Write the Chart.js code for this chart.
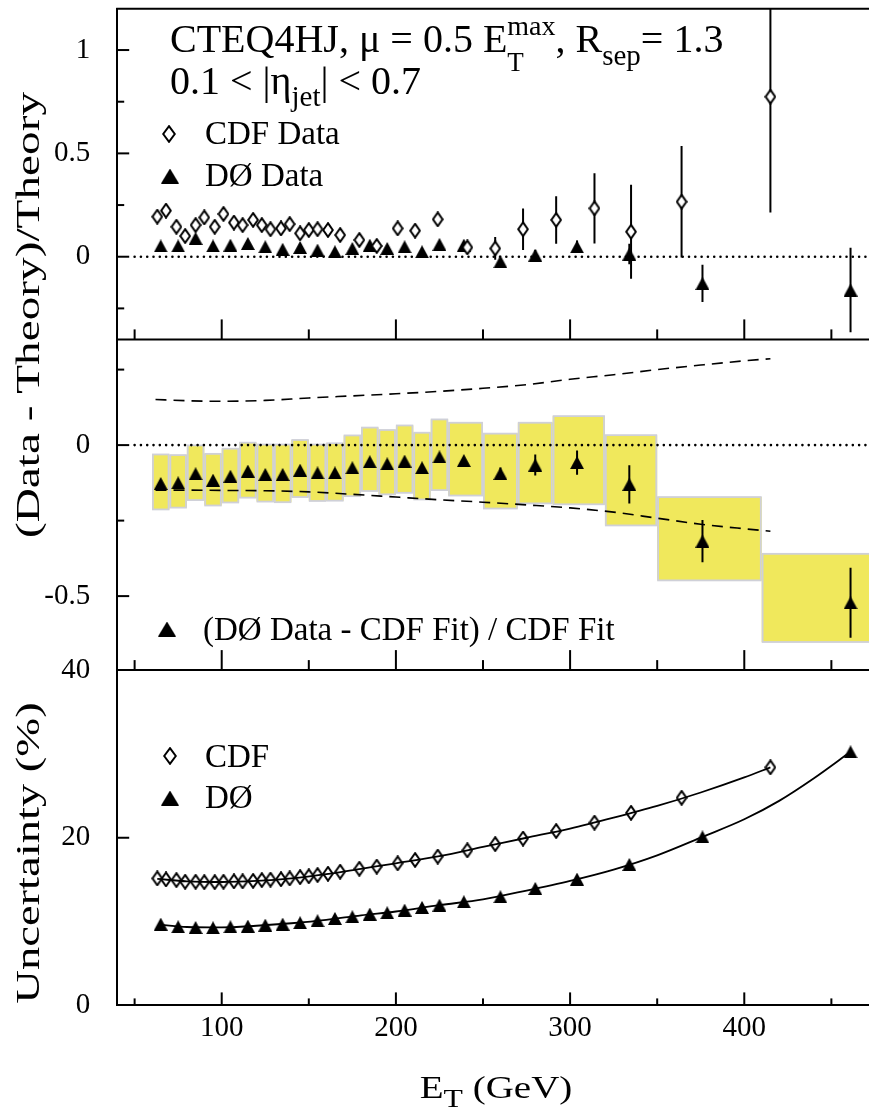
<!DOCTYPE html>
<html><head><meta charset="utf-8">
<script src="https://cdn.jsdelivr.net/npm/chart.js@4.4.0/dist/chart.umd.min.js"></script>
<style>html,body{margin:0;padding:0;background:#fff;overflow:hidden}#wrap{position:relative;width:869px;height:1110px;overflow:hidden}</style>
</head><body><div id="wrap"><canvas id="c" width="876" height="1110"></canvas></div>
<script>
// ---------- DATA ----------
const cdfE = [63,68,74,79,85,90,96,101,107,112,118,123,128,134,139,145,150,155,161,168,179,189,201,211,224,241,257,273,292,314,335,364,415];
const cdfRatio = [0.194,0.223,0.145,0.100,0.153,0.190,0.145,0.207,0.165,0.153,0.178,0.153,0.133,0.137,0.158,0.113,0.129,0.133,0.129,0.105,0.081,0.052,0.137,0.126,0.181,0.045,0.040,0.133,0.178,0.234,0.121,0.266,0.774];
const cdfRatioErr = [0,0,0,0,0,0,0,0,0,0,0,0,0,0,0,0,0,0,0,0,0,0,0,0,0,0.03,0.055,0.10,0.115,0.17,0.227,0.27,0.56];
const cdfUnc = [15.15,15.03,14.95,14.75,14.75,14.7,14.7,14.75,14.8,14.8,14.85,14.95,15.0,15.05,15.15,15.3,15.4,15.55,15.7,15.95,16.3,16.55,16.95,17.35,17.75,18.5,19.24,19.9,20.8,21.8,22.97,24.77,28.4];

const d0E = [65,75,85,95,105,115,125,135,145,155,165,175,185,195,205,215,225,239,260,280,304,334,376,461];
const d0Ratio = [0.052,0.052,0.089,0.052,0.056,0.064,0.048,0.036,0.045,0.032,0.024,0.040,0.056,0.040,0.048,0.024,0.060,0.056,-0.024,0.008,0.048,0.013,-0.129,-0.161];
const d0RatioErr = [0,0,0,0,0,0,0,0,0,0,0,0,0,0,0,0,0,0,0.01,0.025,0.03,0.05,0.09,0.205];
const d0Diff = [-0.127,-0.125,-0.095,-0.116,-0.103,-0.086,-0.097,-0.097,-0.083,-0.092,-0.092,-0.075,-0.055,-0.062,-0.053,-0.075,-0.039,-0.051,-0.094,-0.066,-0.058,-0.130,-0.318,-0.522];
const d0DiffErr = [0,0,0,0,0,0,0,0,0,0,0,0,0,0,0,0,0,0,0.02,0.035,0.04,0.063,0.07,0.116];
const d0Unc = [9.7,9.38,9.3,9.26,9.38,9.46,9.58,9.7,9.86,10.1,10.38,10.57,10.9,11.05,11.37,11.69,11.96,12.36,12.96,13.96,15.07,16.82,20.1,30.25];

// smooth fit curves through the uncertainty points
const cdfFitE = [63,80,100,120,140,160,180,200,225,250,275,300,325,350,375,400,415];
const cdfFitV = [15.1,14.8,14.72,14.85,15.15,15.65,16.3,16.95,17.8,18.9,20.0,21.1,22.4,23.8,25.4,27.2,28.4];
const d0FitE = [65,80,100,120,140,160,180,200,225,250,275,300,325,350,376,400,420,440,461];
const d0FitV = [9.6,9.35,9.3,9.5,9.8,10.2,10.75,11.2,11.96,12.65,13.7,14.85,16.2,17.9,20.1,22.2,24.4,27.1,30.25];

const binLo = [60,70,80,90,100,110,120,130,140,150,160,170,180,190,200,210,220,230,250,270,290,320,350,410];
const binHi = [70,80,90,100,110,120,130,140,150,160,170,180,190,200,210,220,230,250,270,290,320,350,410,560];
const sysHi = [-0.031,-0.033,-0.001,-0.029,-0.012,0.008,0.002,0.002,0.017,0.002,0.006,0.032,0.058,0.050,0.065,0.041,0.085,0.074,0.038,0.074,0.096,0.033,-0.172,-0.360];
const sysLo = [-0.213,-0.207,-0.182,-0.200,-0.190,-0.174,-0.187,-0.189,-0.172,-0.185,-0.184,-0.169,-0.152,-0.163,-0.158,-0.180,-0.149,-0.167,-0.210,-0.193,-0.196,-0.266,-0.448,-0.652];

const bandE = [62,80,100,125,150,175,200,225,250,275,300,325,350,375,400,415];
const bandUp = [0.151,0.147,0.145,0.148,0.156,0.163,0.170,0.178,0.188,0.200,0.218,0.233,0.250,0.265,0.279,0.286];
const bandLo = [-0.149,-0.149,-0.150,-0.151,-0.155,-0.163,-0.172,-0.181,-0.189,-0.198,-0.208,-0.222,-0.242,-0.262,-0.277,-0.285];

const zeroE = [50,472];
const zeroV = [0,0];

const xTickVals = [50,100,150,200,250,300,350,400,450];
const xLabelVals = [100,200,300,400];
const topTickVals = [-0.25,0,0.25,0.5,0.75,1];
const topLabelVals = [0,0.5,1];
const midTickVals = [-0.5,-0.25,0,0.25];
const midLabelVals = [0,-0.5];
const botTickVals = [0,20,40];
const botLabelVals = [0,20,40];

// ---------- helpers ----------
const FONT = '"Liberation Serif","Times New Roman",serif';
const pts = (xs, ys) => xs.map((v, i) => ({x: v, y: ys[i]}));
function makeTri(w, h) {
  const c = document.createElement('canvas'); c.width = w; c.height = h;
  const g = c.getContext('2d'); g.fillStyle = '#000';
  g.beginPath(); g.moveTo(w / 2, 0); g.lineTo(w, h); g.lineTo(0, h); g.closePath(); g.fill();
  return c;
}
function makeDia(w, h, fill) {
  const c = document.createElement('canvas'); c.width = w; c.height = h;
  const g = c.getContext('2d'); g.lineWidth = 2; g.strokeStyle = '#000';
  g.beginPath(); g.moveTo(w / 2, 1.2); g.lineTo(w - 1.2, h / 2); g.lineTo(w / 2, h - 1.2); g.lineTo(1.2, h / 2); g.closePath();
  if (fill) { g.fillStyle = fill; g.fill(); }
  g.stroke();
  return c;
}
const triImg = makeTri(14, 13), triLeg = makeTri(18, 15);
const diaImg = makeDia(12, 16, '#fff'), diaClear = makeDia(12, 16, null), diaLeg = makeDia(14, 18, '#fff');

function seg(ctx, x0, y0, x1, y1) { ctx.beginPath(); ctx.moveTo(x0, y0); ctx.lineTo(x1, y1); ctx.stroke(); }
function errBars(ctx, xs, ys, xv, yv, ev, ca) {
  ctx.save();
  ctx.beginPath(); ctx.rect(ca.left, ys.top, ca.right - ca.left, ys.bottom - ys.top); ctx.clip();
  ctx.strokeStyle = '#000'; ctx.lineWidth = 2;
  for (let i = 0; i < xv.length; i++) {
    if (!ev[i]) continue;
    const px = xs.getPixelForValue(xv[i]);
    seg(ctx, px, ys.getPixelForValue(yv[i] + ev[i]), px, ys.getPixelForValue(yv[i] - ev[i]));
  }
  ctx.restore();
}
function rich(ctx, parts, x, y) {
  let cx = x;
  for (const p of parts) {
    if (p.group) {
      let w = 0;
      for (const q of p.group) {
        ctx.font = q.size + 'px ' + FONT;
        ctx.fillText(q.t, cx, y + (q.dy || 0));
        w = Math.max(w, ctx.measureText(q.t).width);
      }
      cx += w;
    } else {
      ctx.font = p.size + 'px ' + FONT;
      ctx.fillText(p.t, cx, y + (p.dy || 0));
      cx += ctx.measureText(p.t).width;
    }
  }
  return cx - x;
}
function richWidth(ctx, parts) {
  let w = 0;
  for (const p of parts) { ctx.font = p.size + 'px ' + FONT; w += ctx.measureText(p.t).width; }
  return w;
}
function stretchedTitle(ctx, parts, x, y, rot, sx) {
  ctx.save(); ctx.translate(x, y); if (rot) ctx.rotate(-Math.PI / 2); ctx.scale(sx, 1);
  ctx.textAlign = 'left'; ctx.textBaseline = 'alphabetic'; ctx.fillStyle = '#000';
  const w = richWidth(ctx, parts);
  rich(ctx, parts, -w / 2, 0);
  ctx.restore();
}

const panelPlugin = {
  id: 'panels',
  beforeDatasetsDraw(chart) {
    const {ctx, chartArea: ca, scales: {x, yTop, yMid, yBot}} = chart;
    ctx.save();
    ctx.beginPath(); ctx.rect(ca.left, yMid.top, ca.right - ca.left, yMid.bottom - yMid.top); ctx.clip();
    for (let i = 0; i < binLo.length; i++) {
      const x0 = x.getPixelForValue(binLo[i]), x1 = x.getPixelForValue(binHi[i]);
      const y0 = yMid.getPixelForValue(sysHi[i]), y1 = yMid.getPixelForValue(sysLo[i]);
      ctx.fillStyle = '#f0e85c';
      ctx.fillRect(x0, y0, x1 - x0, y1 - y0);
      ctx.strokeStyle = '#cfd0d8'; ctx.lineWidth = 1.8;
      ctx.strokeRect(x0 + 0.9, y0, x1 - x0 - 1.8, y1 - y0);
    }
    ctx.restore();
    errBars(ctx, x, yTop, cdfE, cdfRatio, cdfRatioErr, ca);
    errBars(ctx, x, yTop, d0E, d0Ratio, d0RatioErr, ca);
    errBars(ctx, x, yMid, d0E, d0Diff, d0DiffErr, ca);
  },
  afterDraw(chart) {
    const {ctx, chartArea: ca, scales: {x, yTop, yMid, yBot}} = chart;
    ctx.save();
    ctx.strokeStyle = '#000'; ctx.lineWidth = 2;
    seg(ctx, ca.left - 1, yTop.top, ca.right, yTop.top);
    seg(ctx, ca.left - 1, yMid.top, ca.right, yMid.top);
    seg(ctx, ca.left - 1, yBot.top, ca.right, yBot.top);
    const yt = (s, vals, labs) => vals.forEach(v => {
      const py = s.getPixelForValue(v);
      seg(ctx, ca.left, py, ca.left + (labs.includes(v) ? 12 : 7), py);
    });
    yt(yTop, topTickVals, topLabelVals);
    yt(yMid, midTickVals, midLabelVals);
    yt(yBot, [20], [20]);
    const xt = (by, maj, mnr) => xTickVals.forEach(v => {
      const px = x.getPixelForValue(v);
      seg(ctx, px, by, px, by - (xLabelVals.includes(v) ? maj : mnr));
    });
    xt(yTop.bottom, 20, 10);
    xt(yMid.bottom, 20, 10);
    xt(yBot.bottom, 13, 7);

    ctx.fillStyle = '#000'; ctx.textBaseline = 'alphabetic'; ctx.textAlign = 'left';
    rich(ctx, [
      {t: 'CTEQ4HJ, \u03BC = 0.5 E', size: 40},
      {group: [{t: 'max', size: 28, dy: -17}, {t: 'T', size: 27, dy: 19}]},
      {t: ', R', size: 40},
      {t: 'sep', size: 29, dy: 13},
      {t: '= 1.3', size: 40}
    ], 170, 52);
    rich(ctx, [
      {t: '0.1 < |\u03B7', size: 40},
      {t: 'jet', size: 29, dy: 12},
      {t: '| < 0.7', size: 40}
    ], 170, 94);
    ctx.font = '33px ' + FONT;
    ctx.drawImage(diaLeg, 169 - 7, 134 - 9);
    ctx.fillText('CDF Data', 205, 144);
    ctx.drawImage(triLeg, 170 - 9, 176 - 7.5);
    ctx.fillText('D\u00D8 Data', 205, 186);
    ctx.drawImage(triLeg, 167 - 9, 629 - 7.5);
    ctx.fillText('(D\u00D8 Data - CDF Fit) / CDF Fit', 203, 640);
    ctx.drawImage(diaLeg, 170 - 7, 756 - 9);
    ctx.fillText('CDF', 205, 767);
    ctx.drawImage(triLeg, 170 - 9, 798 - 7.5);
    ctx.fillText('D\u00D8', 205, 808);
    stretchedTitle(ctx, [{t: '(Data - Theory)/Theory', size: 34}], 39, 315, true, 1.39);
    stretchedTitle(ctx, [{t: 'Uncertainty (%)', size: 34}], 39, 853, true, 1.37);
    stretchedTitle(ctx, [{t: 'E', size: 32}, {t: 'T', size: 26, dy: 9}, {t: ' (GeV)', size: 32}], 496, 1098, false, 1.22);
    ctx.restore();
  }
};

const yCommon = (tickVals, labelVals, weight, sw) => ({
  type: 'linear', position: 'left', stack: 'panels', stackWeight: sw, weight: weight,
  afterBuildTicks: s => { s.ticks = tickVals.map(v => ({value: v})); },
  ticks: {callback: v => labelVals.includes(v) ? String(v) : '', font: {family: FONT, size: 29}, color: '#000', padding: 27, autoSkip: false},
  grid: {display: false, drawTicks: false},
  border: {display: true, color: '#000', width: 2},
  afterFit: s => { s.width = 117.2; s.paddingTop = 0; s.paddingBottom = 0; s.paddingLeft = 0; s.paddingRight = 0; }
});

const scales = {
  x: {
    type: 'linear', position: 'bottom', min: 40, max: 471.6,
    afterBuildTicks: s => { s.ticks = xTickVals.map(v => ({value: v})); },
    ticks: {callback: v => xLabelVals.includes(v) ? String(v) : '', font: {family: FONT, size: 29}, color: '#000', padding: 6, maxRotation: 0, autoSkip: false},
    grid: {display: false, drawTicks: false},
    border: {display: true, color: '#000', width: 2},
    afterFit: s => { s.height = 104.6; s.paddingLeft = 0; s.paddingRight = 0; s.paddingTop = 0; s.paddingBottom = 0; }
  },
  yTop: Object.assign(yCommon(topTickVals, topLabelVals, 3, 330.7), {min: -0.4, max: 1.2}),
  yMid: Object.assign(yCommon(midTickVals, midLabelVals, 2, 330.7), {min: -0.745, max: 0.35}),
  yBot: Object.assign(yCommon(botTickVals, botLabelVals, 1, 335.3), {min: 0, max: 40})
};

const markerDs = (data, yID, img) => ({data, yAxisID: yID, showLine: false, pointStyle: img, pointRadius: 6, order: 0});
const lineDs = (data, yID, extra) => Object.assign({data, yAxisID: yID, pointRadius: 0, borderColor: '#000', fill: false, order: 5}, extra);

new Chart(document.getElementById('c'), {
  type: 'line',
  data: {
    datasets: [
      markerDs(pts(cdfE, cdfRatio), 'yTop', diaImg),
      markerDs(pts(d0E, d0Ratio), 'yTop', triImg),
      markerDs(pts(d0E, d0Diff), 'yMid', triImg),
      markerDs(pts(cdfE, cdfUnc), 'yBot', diaClear),
      markerDs(pts(d0E, d0Unc), 'yBot', triImg),
      lineDs(pts(cdfFitE, cdfFitV), 'yBot', {borderWidth: 1.8, cubicInterpolationMode: 'monotone'}),
      lineDs(pts(d0FitE, d0FitV), 'yBot', {borderWidth: 1.8, cubicInterpolationMode: 'monotone'}),
      lineDs(pts(zeroE, zeroV), 'yTop', {borderWidth: 2.6, borderDash: [0, 6.3], borderCapStyle: 'round'}),
      lineDs(pts(zeroE, zeroV), 'yMid', {borderWidth: 2.6, borderDash: [0, 6.3], borderCapStyle: 'round'}),
      lineDs(pts(bandE, bandUp), 'yMid', {borderWidth: 1.6, borderDash: [11, 7], cubicInterpolationMode: 'monotone'}),
      lineDs(pts(bandE, bandLo), 'yMid', {borderWidth: 1.6, borderDash: [11, 7], cubicInterpolationMode: 'monotone'})
    ]
  },
  options: {
    responsive: false, animation: false, events: [],
    layout: {padding: {top: 8.7, left: 0, right: 0, bottom: 0}},
    plugins: {legend: {display: false}, tooltip: {enabled: false}},
    scales: scales
  },
  plugins: [panelPlugin]
});
</script></body></html>
